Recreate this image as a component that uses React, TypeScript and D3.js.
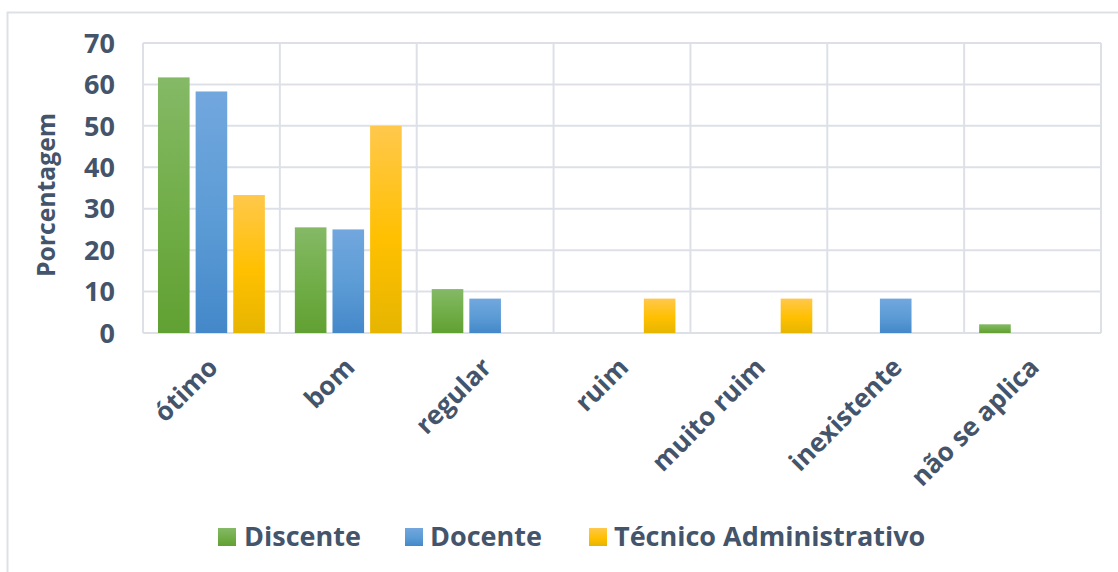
import React from "react";
import * as d3 from "d3";

const categories = ["ótimo", "bom", "regular", "ruim", "muito ruim", "inexistente", "não se aplica"];
const seriesNames = ["Discente", "Docente", "Técnico Administrativo"];
const discente = [61.7, 25.5, 10.6, 0, 0, 0, 2.1];
const docente = [58.3, 25.0, 8.3, 0, 0, 8.3, 0];
const tecnico = [33.3, 50.0, 0, 8.3, 8.3, 0, 0];
const yTicks = [0, 10, 20, 30, 40, 50, 60, 70];

const seriesValues = [discente, docente, tecnico];
const gradients = [
  { id: "gGreen", top: "#85b966", mid: "#70ad47", bot: "#61a032" },
  { id: "gBlue", top: "#72a7de", mid: "#5b9bd5", bot: "#4488ca" },
  { id: "gYellow", top: "#ffc84c", mid: "#ffc000", bot: "#e6b500" },
];

const W = 1118;
const H = 572;
const plot = { left: 143, right: 1101, top: 43, bottom: 333 };
const textColor = "#44546a";
const gridColor = "#dde1e7";
const font = "'Open Sans', 'Noto Sans', sans-serif";

export default function App() {
  const x0 = d3.scaleBand<string>().domain(categories).range([plot.left, plot.right]).paddingInner(0).paddingOuter(0);
  const x1 = d3
    .scaleBand<string>()
    .domain(seriesNames)
    .range([15, x0.bandwidth() - 15])
    .paddingInner(0.16)
    .paddingOuter(0);
  const y = d3.scaleLinear().domain([0, 70]).range([plot.bottom, plot.top]);

  const legendItems = [
    { name: seriesNames[0], sx: 218, tx: 244 },
    { name: seriesNames[1], sx: 405, tx: 430 },
    { name: seriesNames[2], sx: 589, tx: 614 },
  ];

  return (
    <div style={{ position: "absolute", left: 0, top: 0, width: W, height: H }}>
      <svg width={W} height={H} style={{ display: "block", fontFamily: font }}>
        <defs>
          {gradients.map((g) => (
            <linearGradient key={g.id} id={g.id} x1="0" y1="0" x2="0" y2="1">
              <stop offset="0%" stopColor={g.top} />
              <stop offset="55%" stopColor={g.mid} />
              <stop offset="100%" stopColor={g.bot} />
            </linearGradient>
          ))}
        </defs>
        <rect x={0} y={0} width={W} height={H} fill="#ffffff" />
        {/* chart border */}
        <rect x={7.5} y={12.5} width={W + 10} height={H + 10} fill="none" stroke={gridColor} strokeWidth={2} />

        {/* horizontal grid */}
        {yTicks.map((t) => (
          <line key={"h" + t} x1={plot.left} x2={plot.right} y1={y(t)} y2={y(t)} stroke={gridColor} strokeWidth={2} />
        ))}
        {/* vertical grid */}
        {categories.map((c) => (
          <line
            key={"v" + c}
            x1={x0(c)!}
            x2={x0(c)!}
            y1={plot.top}
            y2={plot.bottom}
            stroke={gridColor}
            strokeWidth={2}
          />
        ))}
        <line x1={plot.right} x2={plot.right} y1={plot.top} y2={plot.bottom} stroke={gridColor} strokeWidth={2} />

        {/* bars */}
        {seriesValues.map((vals, si) =>
          vals.map((v, ci) =>
            v > 0 ? (
              <rect
                key={si + "-" + ci}
                x={x0(categories[ci])! + x1(seriesNames[si])!}
                y={y(v)}
                width={x1.bandwidth()}
                height={y(0) - y(v)}
                fill={`url(#${gradients[si].id})`}
              />
            ) : null
          )
        )}

        {/* y tick labels */}
        {yTicks.map((t) => (
          <text
            key={"yt" + t}
            x={115}
            y={y(t)}
            dy="0.36em"
            textAnchor="end"
            fontSize={27}
            fontWeight={700}
            fill={textColor}
          >
            {t}
          </text>
        ))}

        {/* y axis title */}
        <text
          transform={`translate(55, ${195}) rotate(-90)`}
          textAnchor="middle"
          fontSize={25}
          fontWeight={700}
          fill={textColor}
          textLength={164}
          lengthAdjust="spacingAndGlyphs"
        >
          Porcentagem
        </text>

        {/* category labels */}
        {categories.map((c) => {
          const cx = x0(c)! + x0.bandwidth() / 2;
          return (
            <text
              key={"cl" + c}
              transform={`translate(${cx + 8}, ${369}) rotate(-45)`}
              textAnchor="end"
              fontSize={26}
              fontWeight={700}
              fill={textColor}
            >
              {c}
            </text>
          );
        })}

        {/* legend */}
        {legendItems.map((it, i) => (
          <g key={"lg" + i}>
            <rect x={it.sx} y={528} width={18} height={18} fill={`url(#${gradients[i].id})`} />
            <text x={it.tx} y={546} fontSize={27} fontWeight={700} fill={textColor}>
              {it.name}
            </text>
          </g>
        ))}
      </svg>
    </div>
  );
}
